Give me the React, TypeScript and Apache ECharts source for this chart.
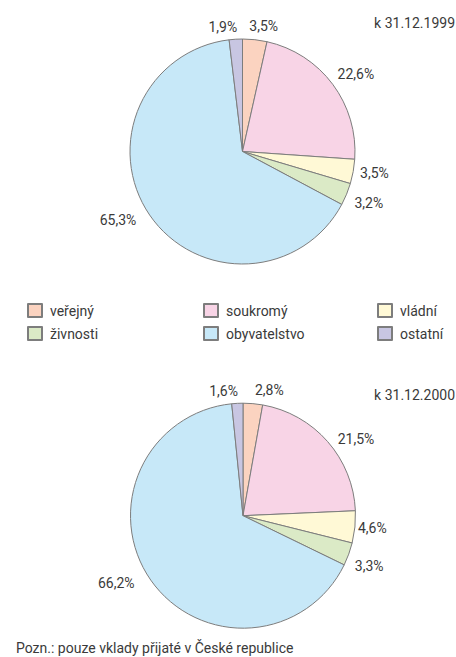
import React, { useEffect, useRef } from "react";
import * as echarts from "echarts";

const categories = ["veřejný", "soukromý", "vládní", "živnosti", "obyvatelstvo", "ostatní"];
const values1999 = [3.5, 22.6, 3.5, 3.2, 65.3, 1.9];
const values2000 = [2.8, 21.5, 4.6, 3.3, 66.2, 1.6];
const titles = ["k 31.12.1999", "k 31.12.2000"];
const note = "Pozn.: pouze vklady přijaté v České republice";
const legendColumns = [
  ["veřejný", "živnosti"],
  ["soukromý", "obyvatelstvo"],
  ["vládní", "ostatní"],
];

// small label nudges (px) relative to ECharts' own label placement
const labelNudge1999 = [[7, 3], [10, 0], [5, -1], [7, 3], [-18, -4], [-12, 4]];
const labelNudge2000 = [[15, 3], [16, 8], [1, -1], [5, 6], [-21, -7], [-13, 4]];

const colors = ["#fbd3c0", "#f8d4e6", "#fff9d6", "#dbeac6", "#c7e8f8", "#c8c6e2"];
const FONT = "Roboto, 'Noto Sans', sans-serif";
const TEXT = "#3a3a3a";

const fmt = (v: number) => v.toFixed(1).replace(".", ",") + "%";

function pieSeries(values: number[], center: [number, number], nudge: number[][]) {
  const data = categories.map((name, i) => ({
    name,
    value: values[i],
    itemStyle: { color: colors[i] },
  }));
  return [
    {
      type: "pie",
      center,
      radius: 112.5,
      startAngle: 90,
      clockwise: true,
      label: { show: false },
      labelLine: { show: false },
      itemStyle: { borderColor: "#7d7d7d", borderWidth: 1 },
      emphasis: { disabled: true },
      data,
    },
    {
      type: "pie",
      center,
      radius: [120, 132],
      startAngle: 90,
      clockwise: true,
      silent: true,
      avoidLabelOverlap: false,
      itemStyle: { color: "rgba(0,0,0,0)", borderWidth: 0 },
      labelLine: { show: false },
      label: {
        show: true,
        position: "inside",
        color: TEXT,
        fontSize: 14,
        fontFamily: FONT,
        formatter: (p: any) => fmt(p.value),
      },
      labelLayout: (p: any) => ({
        dx: nudge[p.dataIndex][0],
        dy: nudge[p.dataIndex][1],
        hideOverlap: false,
      }),
      emphasis: { disabled: true },
      data: categories.map((name, i) => ({ name, value: values[i] })),
    },
  ];
}

export default function App() {
  const ref = useRef<HTMLDivElement>(null);
  useEffect(() => {
    if (!ref.current) return;
    const chart = echarts.init(ref.current, undefined, { renderer: "svg" });
    const legendLefts = [27, 203, 377];
    const ts = { fontSize: 14, fontWeight: "normal", color: TEXT, fontFamily: FONT };
    chart.setOption({
      animation: false,
      backgroundColor: "#ffffff",
      title: [
        { text: titles[0], right: 1, top: 16, padding: 0, textStyle: ts },
        { text: titles[1], right: 1, top: 388, padding: 0, textStyle: ts },
        { text: note, left: 16, top: 641, padding: 0, textStyle: ts },
      ],
      legend: legendColumns.map((col, i) => ({
        orient: "vertical",
        left: legendLefts[i],
        top: 303,
        padding: 0,
        itemWidth: 14,
        itemHeight: 13,
        itemGap: 8,
        icon: "rect",
        selectedMode: false,
        data: col,
        textStyle: { fontSize: 14, color: TEXT, fontFamily: FONT, padding: [0, 0, 0, 3] },
      })),
      series: [
        ...pieSeries(values1999, [242.5, 151.5], labelNudge1999),
        ...pieSeries(values2000, [243, 515.7], labelNudge2000),
      ],
    });
    return () => chart.dispose();
  }, []);
  return (
    <div
      ref={ref}
      style={{ position: "absolute", left: 0, top: 0, width: 456, height: 657 }}
    />
  );
}
